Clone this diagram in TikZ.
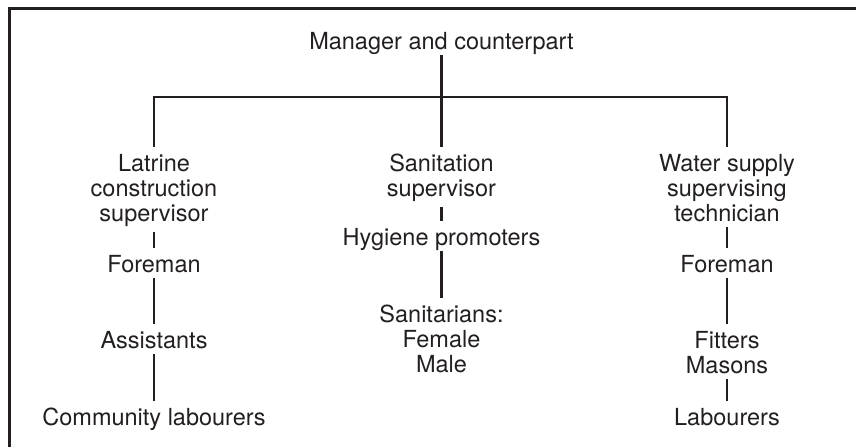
\documentclass[tikz,border=0pt]{standalone}
\usepackage{fontspec}
\setmainfont{TeX Gyre Heros}
\definecolor{ink}{HTML}{231F20}
\begin{document}
\begin{tikzpicture}[x=1pt,y=-1pt,
  lbl/.style={inner sep=0pt, anchor=north, align=center, text=ink,
              font=\fontsize{23.5}{25}\selectfont},
  one/.style={lbl, text depth=0pt},
  conn/.style={draw=ink, line width=2.8pt, shorten <=5pt, shorten >=7.5pt},
  frame/.style={draw=ink, line width=2.8pt, line join=miter}]
\useasboundingbox (0,0) rectangle (856,447);
\draw[frame] (9.8,447) -- (9.8,8.6) -- (856,8.6);
% nodes
\node[one] (mgr) at (441.5,32) {Manager and counterpart};
\node[lbl] (latr) at (154,154) {Latrine\\construction\\supervisor};
\node[lbl] (sanit) at (441.5,154) {Sanitation\\supervisor};
\node[lbl] (water) at (727,154) {Water supply\\supervising\\technician};
\node[one] (fore1) at (154,255) {Foreman};
\node[one] (assist) at (154,331) {Assistants};
\node[one] (comm) at (154,408) {Community labourers};
\node[one] (hyg) at (441.5,228) {Hygiene promoters};
\node[lbl] (sanitar) at (441.5,305) {Sanitarians:\\Female\\Male};
\node[one] (fore2) at (727,255) {Foreman};
\node[lbl] (fitters) at (727,331) {Fitters\\Masons};
\node[one] (lab) at (727,408) {Labourers};
\coordinate (bar) at (441.5,97);
% connectors
\draw[conn] (mgr.south) -- (sanit.north);
\draw[conn, shorten <=7.5pt] (latr.north) |- (bar) -| (water.north);
\draw[conn] (latr.south) -- (fore1.north);
\draw[conn] (fore1.south) -- (assist.north);
\draw[conn] (assist.south) -- (comm.north);
\draw[conn] (sanit.south) -- (hyg.north);
\draw[conn] (hyg.south) -- (sanitar.north);
\draw[conn] (water.south) -- (fore2.north);
\draw[conn] (fore2.south) -- (fitters.north);
\draw[conn] (fitters.south) -- (lab.north);
\end{tikzpicture}
\end{document}
